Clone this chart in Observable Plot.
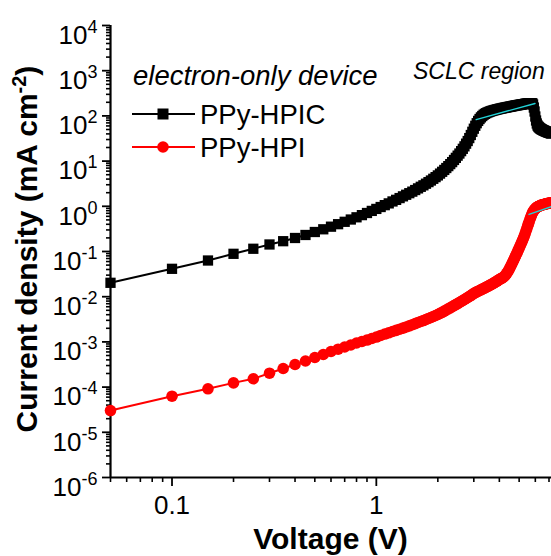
<!DOCTYPE html>
<html>
<head>
<meta charset="utf-8">
<script src="https://cdn.jsdelivr.net/npm/d3@7"></script>
<script src="https://cdn.jsdelivr.net/npm/@observablehq/plot@0.6"></script>
<style>
  html, body { margin: 0; padding: 0; background: #fff; }
  #chart { width: 551px; height: 556px; overflow: hidden; }
</style>
</head>
<body>
<div id="chart"></div>
<script>
// Applied bias (V), one sample every 0.05 V
const voltage = [
  0.05, 0.10, 0.15, 0.20, 0.25, 0.30, 0.35, 0.40, 0.45, 0.50,
  0.55, 0.60, 0.65, 0.70, 0.75, 0.80, 0.85, 0.90, 0.95, 1.00,
  1.05, 1.10, 1.15, 1.20, 1.25, 1.30, 1.35, 1.40, 1.45, 1.50,
  1.55, 1.60, 1.65, 1.70, 1.75, 1.80, 1.85, 1.90, 1.95, 2.00,
  2.05, 2.10, 2.15, 2.20, 2.25, 2.30, 2.35, 2.40, 2.45, 2.50,
  2.55, 2.60, 2.65, 2.70, 2.75, 2.80, 2.85, 2.90, 2.95, 3.00,
  3.05, 3.10, 3.15, 3.20, 3.25, 3.30, 3.35, 3.40, 3.45, 3.50,
  3.55, 3.60, 3.65, 3.70, 3.75, 3.80, 3.85, 3.90, 3.95, 4.00,
  4.05, 4.10, 4.15, 4.20, 4.25, 4.30, 4.35, 4.40, 4.45, 4.50,
  4.55, 4.60, 4.65, 4.70, 4.75, 4.80, 4.85, 4.90, 4.95, 5.00,
  5.05, 5.10, 5.15, 5.20, 5.25, 5.30, 5.35, 5.40, 5.45, 5.50,
  5.55, 5.60, 5.65, 5.70, 5.75, 5.80, 5.85, 5.90, 5.95, 6.00,
  6.05, 6.10, 6.15, 6.20, 6.25, 6.30, 6.35, 6.40, 6.45, 6.50,
  6.55, 6.60, 6.65, 6.70, 6.75, 6.80, 6.85, 6.90, 6.95, 7.00,
  7.05, 7.10, 7.15, 7.20
];

// Current density (mA cm^-2), PPy-HPIC electron-only device
const jHPIC = [
  0.0203, 0.0414, 0.0632, 0.0889, 0.115, 0.143, 0.169, 0.199, 0.232, 0.270,
  0.310, 0.354, 0.402, 0.454, 0.510, 0.571, 0.638, 0.711, 0.791, 0.875,
  0.964, 1.06, 1.16, 1.28, 1.39, 1.52, 1.66, 1.80, 1.95, 2.11,
  2.29, 2.49, 2.70, 2.91, 3.16, 3.43, 3.72, 4.06, 4.42, 4.82,
  5.29, 5.80, 6.38, 7.03, 7.75, 8.58, 9.50, 10.6, 11.8, 13.2,
  14.7, 16.6, 18.7, 21.2, 24.3, 27.8, 32.3, 37.8, 44.5, 52.1,
  60.4, 68.9, 77.5, 85.4, 92.7, 99.5, 106, 111, 115, 119,
  122, 125, 128, 130, 133, 135, 137, 139, 141, 143,
  145, 146, 149, 150, 152, 153, 155, 157, 158, 160,
  161, 163, 165, 166, 168, 170, 171, 172, 174, 175,
  176, 178, 179, 181, 182, 183, 185, 186, 187, 188,
  189, 190, 190, 191, 191, 190, 179, 153, 125, 97.0,
  79.1, 67.9, 61.4, 58.3, 56.0, 54.0, 52.6, 51.3, 50.3, 49.2,
  48.4, 47.5, 46.8, 46.1, 45.4, 44.7, 44.2, 43.6, 43.0, 42.5,
  42.1, 41.6, 41.2, 40.8
];

// Current density (mA cm^-2), PPy-HPI electron-only device
const jHPI = [
  3.03e-5, 6.29e-5, 9.17e-5, 1.24e-4, 1.53e-4, 2.03e-4, 2.58e-4, 3.16e-4, 3.78e-4, 4.52e-4,
  5.26e-4, 6.13e-4, 6.89e-4, 7.71e-4, 8.53e-4, 9.45e-4, 1.02e-3, 1.10e-3, 1.19e-3, 1.28e-3,
  1.39e-3, 1.49e-3, 1.59e-3, 1.70e-3, 1.80e-3, 1.91e-3, 2.02e-3, 2.14e-3, 2.26e-3, 2.40e-3,
  2.54e-3, 2.69e-3, 2.83e-3, 2.97e-3, 3.13e-3, 3.30e-3, 3.47e-3, 3.65e-3, 3.84e-3, 4.04e-3,
  4.27e-3, 4.52e-3, 4.80e-3, 5.08e-3, 5.37e-3, 5.68e-3, 6.01e-3, 6.35e-3, 6.71e-3, 7.06e-3,
  7.45e-3, 7.83e-3, 8.24e-3, 8.67e-3, 9.12e-3, 9.60e-3, 1.01e-2, 1.06e-2, 1.12e-2, 1.18e-2,
  1.23e-2, 1.28e-2, 1.32e-2, 1.37e-2, 1.42e-2, 1.47e-2, 1.52e-2, 1.57e-2, 1.63e-2, 1.68e-2,
  1.74e-2, 1.81e-2, 1.86e-2, 1.93e-2, 2.00e-2, 2.06e-2, 2.15e-2, 2.22e-2, 2.32e-2, 2.40e-2,
  2.48e-2, 2.55e-2, 2.63e-2, 2.73e-2, 2.87e-2, 3.07e-2, 3.29e-2, 3.57e-2, 3.90e-2, 4.29e-2,
  4.75e-2, 5.26e-2, 5.83e-2, 6.45e-2, 7.14e-2, 7.91e-2, 8.76e-2, 9.70e-2, 0.107, 0.119,
  0.132, 0.146, 0.161, 0.179, 0.199, 0.222, 0.250, 0.283, 0.319, 0.361,
  0.408, 0.461, 0.518, 0.579, 0.641, 0.703, 0.759, 0.807, 0.849, 0.885,
  0.917, 0.946, 0.970, 0.989, 1.00, 1.03, 1.04, 1.06, 1.07, 1.08,
  1.09, 1.10, 1.11, 1.12, 1.13, 1.14, 1.15, 1.16, 1.17, 1.17,
  1.18, 1.18, 1.19, 1.19
];

// Linear fits over the SCLC region
const fitHPIC_V = [3.08, 5.98];
const fitHPIC_J = [83, 188];
const fitHPI_V = [5.59, 7.2];
const fitHPI_J = [0.66, 0.99];

// Axis ticks
const yExponents = [4, 3, 2, 1, 0, -1, -2, -3, -4, -5, -6];
const xMajorTicks = [0.1, 1];
const xTickLabels = ["0.1", "1"];
const xMinorTicks = [0.05, 0.06, 0.07, 0.08, 0.09, 0.2, 0.3, 0.4, 0.5, 0.6, 0.7, 0.8, 0.9, 2, 3, 4, 5, 6, 7];

const seriesNames = ["PPy-HPIC", "PPy-HPI"];
const seriesColors = ["#000000", "#ff0000"];
const cyan = "#22d3d8";

const hpic = voltage.map((v, i) => ({V: v, J: jHPIC[i]}));
const hpi = voltage.map((v, i) => ({V: v, J: jHPI[i]}));
const fitA = fitHPIC_V.map((v, i) => ({V: v, J: fitHPIC_J[i]}));
const fitB = fitHPI_V.map((v, i) => ({V: v, J: fitHPI_J[i]}));

const yMajor = yExponents.map(e => Math.pow(10, e));
const yMinor = yExponents.slice(1).flatMap(e => [2, 3, 4, 5, 6, 7, 8, 9].map(m => m * Math.pow(10, e)));

const FONT = "'Liberation Sans', Arial, Helvetica, sans-serif";
const noLabel = () => "";

const chart = Plot.plot({
  width: 551,
  height: 556,
  marginLeft: 110,
  marginRight: 0,
  marginTop: 25,
  marginBottom: 79,
  x: {type: "log", domain: [0.05, 7.2]},
  y: {type: "log", domain: [1e-6, 1e4]},
  style: {fontFamily: FONT, background: "#fff", color: "#000"},
  marks: [
    Plot.axisY(yMinor, {anchor: "left", tickSize: 4, strokeWidth: 1.6, tickFormat: noLabel, label: null}),
    Plot.axisY(yMajor, {anchor: "left", tickSize: 8, tickPadding: 5, strokeWidth: 1.8, fontSize: 26,
      tickFormat: d => "10^" + Math.round(Math.log10(d)), label: null}),
    Plot.axisX(xMinorTicks, {anchor: "bottom", tickSize: 5, strokeWidth: 1.6, tickFormat: noLabel, label: null}),
    Plot.axisX(xMajorTicks, {anchor: "bottom", tickSize: 9, tickPadding: 9, strokeWidth: 1.8, fontSize: 26,
      tickFormat: d => xTickLabels[xMajorTicks.indexOf(d)], label: null}),
    Plot.ruleX([0.05], {stroke: "#000", strokeWidth: 2.2}),
    Plot.ruleY([1e-6], {stroke: "#000", strokeWidth: 2.2}),
    Plot.line(hpic, {x: "V", y: "J", stroke: seriesColors[0], strokeWidth: 2}),
    Plot.dot(hpic, {x: "V", y: "J", symbol: "square", r: 5.8, fill: seriesColors[0], stroke: null}),
    Plot.line(hpi, {x: "V", y: "J", stroke: seriesColors[1], strokeWidth: 2}),
    Plot.dot(hpi, {x: "V", y: "J", symbol: "circle", r: 5.8, fill: seriesColors[1], stroke: null}),
    Plot.line(fitA, {x: "V", y: "J", stroke: cyan, strokeWidth: 1.4}),
    Plot.line(fitB, {x: "V", y: "J", stroke: cyan, strokeWidth: 1.4})
  ]
});

document.getElementById("chart").appendChild(chart);

const svg = d3.select(chart);
svg.style("overflow", "hidden");

// Decade labels as 10 with a raised exponent
svg.selectAll("g[aria-label='y-axis tick label'] text").each(function() {
  const t = d3.select(this);
  const s = t.text();
  if (!s.includes("^")) return;
  const exp = s.split("^")[1];
  t.text(null).attr("dy", "0.38em");
  t.append("tspan").text("10");
  t.append("tspan").attr("dy", -11).attr("font-size", 18).text(exp);
});

// Axis titles
svg.append("text")
  .attr("x", 330.5).attr("y", 549)
  .attr("text-anchor", "middle")
  .attr("font-family", FONT).attr("font-weight", "bold").attr("font-size", 30)
  .text("Voltage (V)");

const yTitle = svg.append("text")
  .attr("transform", "translate(37,249) rotate(-90)")
  .attr("text-anchor", "middle")
  .attr("font-family", FONT).attr("font-weight", "bold").attr("font-size", 30);
yTitle.append("tspan").text("Current density (mA cm");
yTitle.append("tspan").attr("dy", -11).attr("font-size", 20).text("-2");
yTitle.append("tspan").attr("dy", 11).text(")");

// Annotation
svg.append("text")
  .attr("x", 413).attr("y", 79)
  .attr("text-anchor", "start")
  .attr("font-family", FONT).attr("font-style", "italic").attr("font-size", 23)
  .text("SCLC region");

// Legend
const lg = svg.append("g").attr("font-family", FONT).attr("text-anchor", "start");
lg.append("text").attr("x", 133).attr("y", 85)
  .attr("font-style", "italic").attr("font-size", 27.5)
  .text("electron-only device");
const rows = [114, 147];
rows.forEach((y, i) => {
  lg.append("line").attr("x1", 132).attr("x2", 195).attr("y1", y).attr("y2", y)
    .attr("stroke", seriesColors[i]).attr("stroke-width", 2);
  if (i === 0) {
    lg.append("rect").attr("x", 163 - 5.5).attr("y", y - 5.5).attr("width", 11).attr("height", 11)
      .attr("fill", seriesColors[i]);
  } else {
    lg.append("circle").attr("cx", 163).attr("cy", y).attr("r", 5.8).attr("fill", seriesColors[i]);
  }
  lg.append("text").attr("x", 200).attr("y", y + 9.5)
    .attr("font-size", 27.5)
    .text(seriesNames[i]);
});
</script>
</body>
</html>
